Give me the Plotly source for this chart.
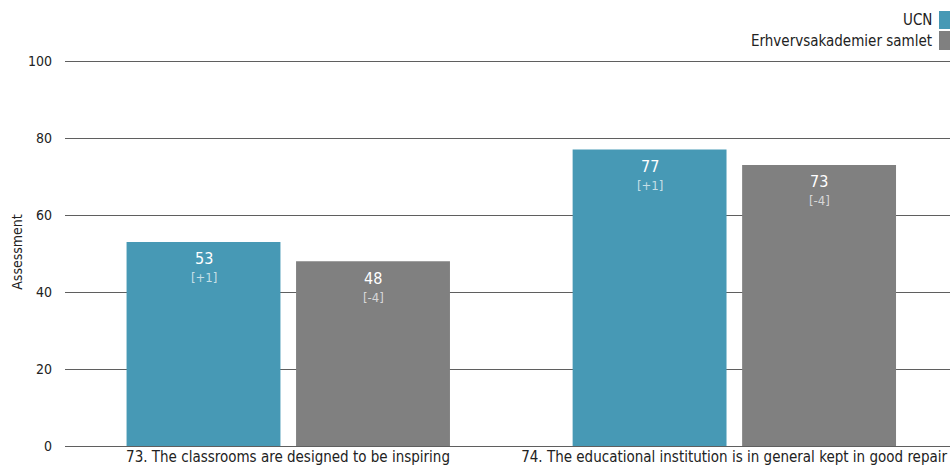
import plotly.graph_objects as go

categories = ["73. The classrooms are designed to be inspiring",
              "74. The educational institution is in general kept in good repair"]
series_names = ["UCN", "Erhvervsakademier samlet"]
ucn_values = [53, 77]
ucn_diff = ["[+1]", "[+1]"]
all_values = [48, 73]
all_diff = ["[-4]", "[-4]"]
y_ticks = [0, 20, 40, 60, 80, 100]

colors = ["#4799b5", "#808080"]
FONT = "Tahoma, 'DejaVu Sans Condensed', 'DejaVu Sans', sans-serif"

W, H = 950, 468
L, R, T, B = 65, 0, 58, 22
PW, PH = W - L - R, H - T - B
BAR_W = 0.345
OFFSETS = [-0.362, 0.018]
Y_MAX = PH / 3.85  # keeps 100 at the reference pixel row while leaving room above

fig = go.Figure()
annotations = []
xs = list(range(len(categories)))
for name, vals, diffs, col, off in [
    (series_names[0], ucn_values, ucn_diff, colors[0], OFFSETS[0]),
    (series_names[1], all_values, all_diff, colors[1], OFFSETS[1]),
]:
    fig.add_trace(go.Bar(
        x=xs, y=vals, name=name,
        marker=dict(color=col, line=dict(width=0)),
        width=BAR_W, offset=off,
        hoverinfo="skip", showlegend=False,
    ))
    for x, v, d in zip(xs, vals, diffs):
        cx = x + off + BAR_W / 2
        annotations.append(dict(x=cx, y=v, xref="x", yref="y", showarrow=False,
                                text=str(v), yanchor="middle", yshift=-17,
                                font=dict(size=16, color="white", family=FONT)))
        annotations.append(dict(x=cx, y=v, xref="x", yref="y", showarrow=False,
                                text=d, yanchor="middle", yshift=-36,
                                font=dict(size=13, color="rgba(255,255,255,0.7)", family=FONT)))

# custom legend: label text to the left of the colour swatch
shapes = []
swatches = [(11, 29), (31, 50)]
for (top_px, bot_px), name, col in zip(swatches, series_names, colors):
    y_top = (H - B - top_px) / PH
    y_bot = (H - B - bot_px) / PH
    shapes.append(dict(type="rect", xref="paper", yref="paper",
                       x0=(939 - L) / PW, x1=1.0, y0=y_bot, y1=y_top,
                       line=dict(width=0), fillcolor=col))
    annotations.append(dict(xref="paper", yref="paper",
                            x=(934 - L) / PW, y=(y_top + y_bot) / 2,
                            xanchor="right", yanchor="middle", showarrow=False,
                            text=name, font=dict(size=15, color="#222", family=FONT)))

fig.update_layout(
    width=W, height=H,
    margin=dict(l=L, r=R, t=T, b=B, autoexpand=False),
    paper_bgcolor="white", plot_bgcolor="white",
    font=dict(family=FONT, size=14, color="#222"),
    barmode="overlay",
    shapes=shapes, annotations=annotations,
    showlegend=False,
    xaxis=dict(range=[-0.5, 1.484], tickvals=xs,
               ticktext=categories, showgrid=False, zeroline=False,
               showline=False, ticks="", automargin=False,
               tickfont=dict(size=15, family=FONT, color="#222")),
    yaxis=dict(range=[0, Y_MAX], tickvals=y_ticks, showgrid=True,
               gridcolor="#5f5f5f", gridwidth=1, zeroline=True, zerolinecolor="#5f5f5f",
               zerolinewidth=1, showline=False, ticks="", automargin=False,
               ticklabelstandoff=12,
               title=dict(text="Assessment", font=dict(size=14, family=FONT), standoff=2),
               tickfont=dict(size=14, family=FONT, color="#222")),
)

fig.write_html("out.html",
               config={"displayModeBar": False, "staticPlot": True},
               post_script="document.body.style.margin='0';"
                           "document.body.style.overflow='hidden';"
                           "document.documentElement.style.overflow='hidden';")
